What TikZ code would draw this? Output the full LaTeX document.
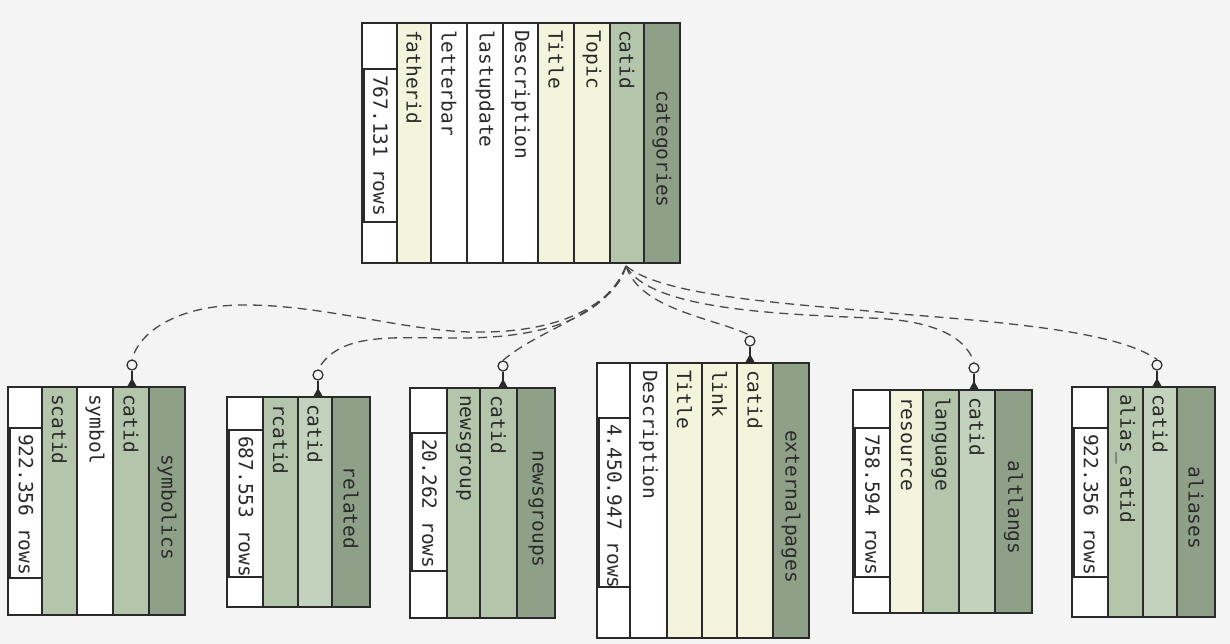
\documentclass[tikz,border=0pt]{standalone}
\usepackage{fontspec}
\setmonofont{DejaVu Sans Mono}
\definecolor{bgc}{HTML}{F4F4F4}
\definecolor{hdr}{HTML}{8FA088}
\definecolor{grn}{HTML}{B3C5AB}
\definecolor{lgrn}{HTML}{C3D2BC}
\definecolor{yel}{HTML}{F4F4DC}
\definecolor{ink}{HTML}{2A2A2A}
\tikzset{
  tbline/.style={draw=ink, line width=1.2pt},
  tbouter/.style={draw=ink, line width=1.8pt},
  collabel/.style={font=\ttfamily\fontsize{19.5}{19.5}\selectfont, text=ink, inner sep=1pt, anchor=west, rotate=-90},
  headlabel/.style={font=\ttfamily\fontsize{19.5}{19.5}\selectfont, text=ink, inner sep=1pt, rotate=-90},
  rel/.style={draw=ink!85, line width=1.3pt, dash pattern=on 9pt off 6pt},
  endcirc/.style={circle, draw=ink, fill=bgc, line width=1.2pt, minimum size=10pt, inner sep=0pt},
}
% name, x1, x2, top, bottom, colour, label
\newcommand{\dbcol}[7]{%
  \draw[tbline, fill=#6] (#2,#4) rectangle (#3,#5);
  \node[collabel] (#1) at ({(#2+#3)/2},{#4+6}) {#7};}
% name, x1, x2, top, bottom, label
\newcommand{\dbhead}[6]{%
  \draw[tbline, fill=hdr] (#2,#4) rectangle (#3,#5);
  \node[headlabel] (#1) at ({(#2+#3)/2},{(#4+#5)/2+6}) {#6};}
% name, x1, x2, top, bottom, y1, y2, text
\newcommand{\dbrows}[8]{%
  \draw[tbline, fill=white] (#2,#4) rectangle (#3,#5);
  \draw[tbline] (#2+2,#6) rectangle (#3,#7);
  \node[collabel] (#1) at ({(#2+#3)/2+1},{#6+5}) {#8};}
% outer frame: x1, x2, top, bottom
\newcommand{\dbframe}[4]{\draw[tbouter] (#1,#3) rectangle (#2,#4);}
% end mark: name, x, top
\newcommand{\dbend}[3]{%
  \node[endcirc] (#1) at (#2,#3-22) {};
  \draw[ink, line width=1.2pt] (#1.south) -- (#2,#3);
  \fill[ink] (#2-5,#3) -- (#2,#3-9) -- (#2+5,#3) -- cycle;}
\begin{document}
\begin{tikzpicture}[x=1pt,y=-1pt]
\fill[bgc] (0,0) rectangle (1230,644);
\useasboundingbox (0,0) rectangle (1230,644);

% categories
\dbrows{catrows}{362}{397}{23}{263}{69}{222}{767.131 rows}
\dbcol{catf}{397}{431}{23}{263}{yel}{fatherid}
\dbcol{catl}{431}{467}{23}{263}{white}{letterbar}
\dbcol{catu}{467}{503}{23}{263}{white}{lastupdate}
\dbcol{catd}{503}{538}{23}{263}{white}{Description}
\dbcol{catt}{538}{574}{23}{263}{yel}{Title}
\dbcol{catp}{574}{610}{23}{263}{yel}{Topic}
\dbcol{catc}{610}{644}{23}{263}{grn}{catid}
\dbhead{cath}{644}{680}{23}{263}{categories}
\dbframe{362}{680}{23}{263}

% symbolics
\dbrows{symrows}{8}{42}{387}{615}{428}{578}{922.356 rows}
\dbcol{syms}{42}{77}{387}{615}{grn}{scatid}
\dbcol{symb}{77}{113}{387}{615}{white}{symbol}
\dbcol{symc}{113}{149}{387}{615}{grn}{catid}
\dbhead{symh}{149}{185}{387}{615}{symbolics}
\dbframe{8}{185}{387}{615}

% related
\dbrows{relrows}{227}{263}{397}{607}{430}{577}{687.553 rows}
\dbcol{relr}{263}{298}{397}{607}{grn}{rcatid}
\dbcol{relc}{298}{332}{397}{607}{lgrn}{catid}
\dbhead{relh}{332}{370}{397}{607}{related}
\dbframe{227}{370}{397}{607}

% newsgroups
\dbrows{newrows}{410}{447}{388}{618}{433}{571}{20.262 rows}
\dbcol{newn}{447}{480}{388}{618}{grn}{newsgroup}
\dbcol{newc}{480}{517}{388}{618}{grn}{catid}
\dbhead{newh}{517}{555}{388}{618}{newsgroups}
\dbframe{410}{555}{388}{618}

% externalpages
\dbrows{extrows}{597}{630}{363}{638}{418}{587}{4.450.947 rows}
\dbcol{extd}{630}{667}{363}{638}{white}{Description}
\dbcol{extt}{667}{702}{363}{638}{yel}{Title}
\dbcol{extl}{702}{737}{363}{638}{yel}{link}
\dbcol{extc}{737}{773}{363}{638}{yel}{catid}
\dbhead{exth}{773}{809}{363}{638}{externalpages}
\dbframe{597}{809}{363}{638}

% altlangs
\dbrows{altrows}{853}{890}{390}{613}{428}{577}{758.594 rows}
\dbcol{altr}{890}{923}{390}{613}{yel}{resource}
\dbcol{altl}{923}{959}{390}{613}{grn}{language}
\dbcol{altc}{959}{995}{390}{613}{lgrn}{catid}
\dbhead{alth}{995}{1032}{390}{613}{altlangs}
\dbframe{853}{1032}{390}{613}

% aliases
\dbrows{alirows}{1072}{1108}{387}{617}{428}{577}{922.356 rows}
\dbcol{alia}{1108}{1143}{387}{617}{grn}{alias\_catid}
\dbcol{alic}{1143}{1177}{387}{617}{lgrn}{catid}
\dbhead{alih}{1177}{1215}{387}{617}{aliases}
\dbframe{1072}{1215}{387}{617}

% end marks
\dbend{esym}{132}{387}
\dbend{erel}{318}{397}
\dbend{enew}{503}{388}
\dbend{eext}{750}{363}
\dbend{ealt}{974}{390}
\dbend{eali}{1157}{387}

% relationships
\coordinate (src) at (626,266);
\draw[rel] (src) .. controls (612,305) and (560,334) .. (470,332)
  .. controls (400,330) and (320,304) .. (240,305)
  .. controls (180,306) and (140,330) .. (esym.north);
\draw[rel] (src) .. controls (608,310) and (560,338) .. (460,338)
  .. controls (390,338) and (340,332) .. (erel.north);
\draw[rel] (src) .. controls (614,312) and (540,328) .. (enew.north);
\draw[rel] (src) .. controls (640,310) and (715,318) .. (eext.north);
\draw[rel] (src) .. controls (650,310) and (780,314) .. (870,318)
  .. controls (930,320) and (965,335) .. (ealt.north);
\draw[rel] (src) .. controls (665,298) and (800,304) .. (900,314)
  .. controls (1030,324) and (1120,334) .. (eali.north);
\end{tikzpicture}
\end{document}
